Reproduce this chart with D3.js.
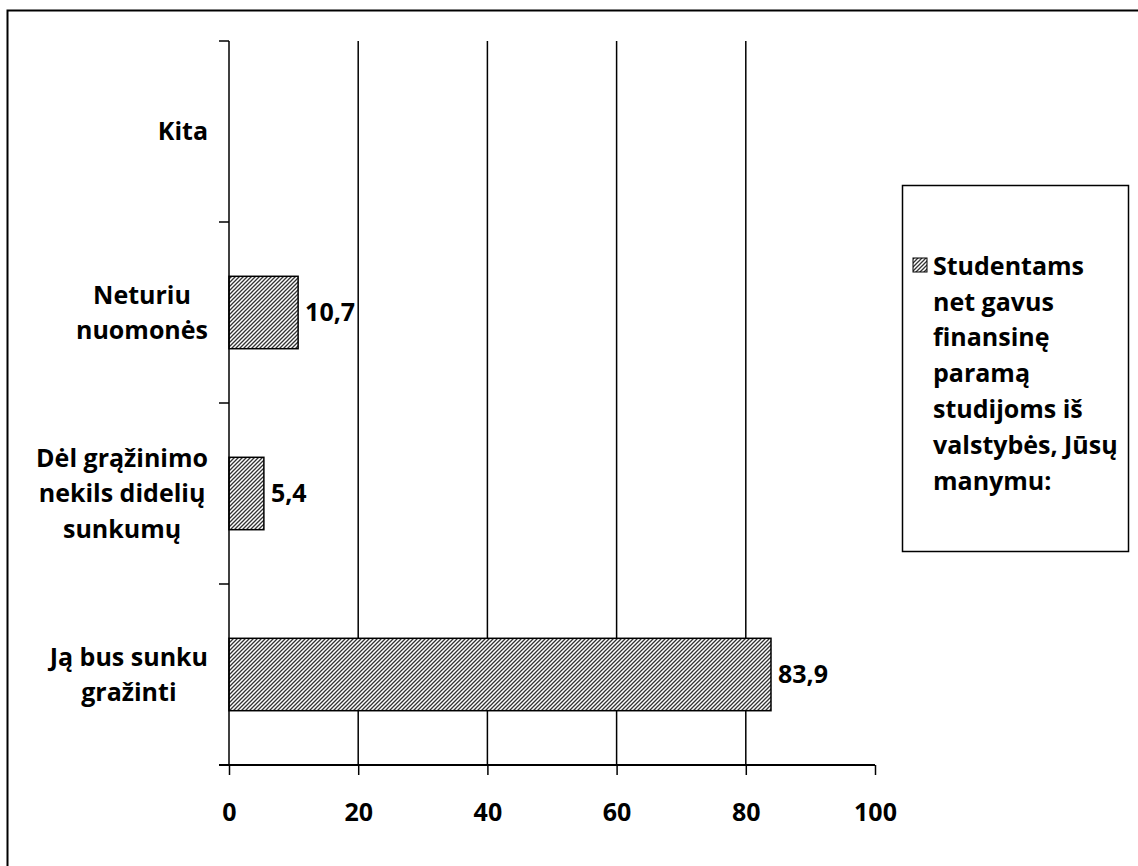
<!DOCTYPE html>
<html>
<head>
<meta charset="utf-8">
<script src="https://cdn.jsdelivr.net/npm/d3@7"></script>
<style>
  body { margin: 0; background: #fff; }
  text { font-family: "Open Sans", Lato, sans-serif; font-weight: bold; fill: #000; }
</style>
</head>
<body>
<div class="chart"></div>
<script>
const width = 1138
const height = 866

// data
const categories = [
    ["Ją bus sunku", "gražinti"],
    ["Dėl grąžinimo", "nekils didelių", "sunkumų"],
    ["Neturiu", "nuomonės"],
    ["Kita"]
]
const values = [83.9, 5.4, 10.7, 0]
const valueLabels = ["83,9", "5,4", "10,7", ""]
const xTicks = [0, 20, 40, 60, 80, 100]
const legendLines = ["Studentams", "net gavus", "finansinę", "paramą", "studijoms iš", "valstybės, Jūsų", "manymu:"]

const fontSize = "25px"

const svg = d3.select('.chart')
    .append('svg')
    .attr('width', width)
    .attr('height', height)

// hatch pattern
const defs = svg.append("defs")
const pat = defs.append("pattern")
    .attr("id", "hatch")
    .attr("patternUnits", "userSpaceOnUse")
    .attr("width", 4)
    .attr("height", 4)
pat.append("rect").attr("width", 4).attr("height", 4).attr("fill", "#fff")
pat.append("path")
    .attr("d", "M-1,1 l2,-2 M0,4 l4,-4 M3,5 l2,-2")
    .attr("stroke", "#333")
    .attr("stroke-width", 1.3)

// outer frame (only top/left visible)
svg.append("rect")
    .attr("x", 7.5).attr("y", 10.5)
    .attr("width", 1200).attr("height", 1000)
    .attr("fill", "none")
    .attr("stroke", "#000")
    .attr("stroke-width", 2)

const plot = { left: 229, right: 875, top: 41, bottom: 765 }

const x = d3.scaleLinear().domain([0, 100]).range([plot.left, plot.right])
const y = d3.scaleBand()
    .domain(d3.range(categories.length))
    .range([plot.bottom, plot.top])
    .paddingInner(0.6)
    .paddingOuter(0.3)

// gridlines
svg.append("g")
    .selectAll("line")
    .data(xTicks.filter(d => d > 0 && d < 100))
    .join("line")
    .attr("x1", d => x(d)).attr("x2", d => x(d))
    .attr("y1", plot.top).attr("y2", plot.bottom)
    .attr("stroke", "#000")
    .attr("stroke-width", 1.5)

// bars
svg.append("g")
    .selectAll("rect")
    .data(values)
    .join("rect")
    .attr("x", x(0))
    .attr("y", (d, i) => y(i))
    .attr("width", d => x(d) - x(0))
    .attr("height", y.bandwidth())
    .attr("fill", "url(#hatch)")
    .attr("stroke", d => d > 0 ? "#000" : "none")
    .attr("stroke-width", 1.5)

// value labels
svg.append("g")
    .selectAll("text")
    .data(values)
    .join("text")
    .attr("x", d => x(d) + 7)
    .attr("y", (d, i) => y(i) + y.bandwidth() / 2)
    .attr("dy", "0.35em")
    .attr("font-size", fontSize)
    .text((d, i) => valueLabels[i])

// x axis
const xAxis = svg.append("g")
    .attr("transform", `translate(0,${plot.bottom})`)
    .call(d3.axisBottom(x).tickValues(xTicks).tickSize(10).tickPadding(28).tickFormat(d3.format("d")))
xAxis.select(".domain").attr("stroke", "#000").attr("stroke-width", 2).attr("d", `M${plot.left - 10},0H${plot.right}`)
xAxis.selectAll(".tick line").attr("stroke", "#000").attr("stroke-width", 1.5)
xAxis.selectAll(".tick text").attr("font-size", fontSize).attr("font-family", "Open Sans").attr("font-weight", "bold").attr("dy", "0.71em")

// y axis
const bandEdges = d3.range(categories.length + 1).map(i => plot.bottom - i * (plot.bottom - plot.top) / categories.length)
svg.append("line")
    .attr("x1", plot.left).attr("x2", plot.left)
    .attr("y1", plot.top).attr("y2", plot.bottom)
    .attr("stroke", "#000").attr("stroke-width", 1.5)
svg.append("g")
    .selectAll("line")
    .data(bandEdges)
    .join("line")
    .attr("x1", plot.left - 10).attr("x2", plot.left)
    .attr("y1", d => d).attr("y2", d => d)
    .attr("stroke", "#000").attr("stroke-width", 1.5)

// category labels
const lineH = 35.5
categories.forEach((lines, i) => {
    const cy = y(i) + y.bandwidth() / 2
    const g = svg.append("g")
    const texts = g.selectAll("text")
        .data(lines)
        .join("text")
        .attr("font-size", fontSize)
        .attr("text-anchor", "middle")
        .attr("y", (d, j) => cy + (j - (lines.length - 1) / 2) * lineH)
        .attr("dy", "0.35em")
        .text(d => d)
    let maxW = 0
    texts.each(function() { maxW = Math.max(maxW, this.getComputedTextLength()) })
    texts.attr("x", 208 - maxW / 2)
})

// legend
const legend = svg.append("g")
legend.append("rect")
    .attr("x", 902.5).attr("y", 185.5)
    .attr("width", 226).attr("height", 366)
    .attr("fill", "#fff")
    .attr("stroke", "#000")
    .attr("stroke-width", 1.5)
legend.append("rect")
    .attr("x", 913).attr("y", 258)
    .attr("width", 14).attr("height", 14)
    .attr("fill", "url(#hatch)")
    .attr("stroke", "#000")
    .attr("stroke-width", 1)
legend.selectAll("text.leg")
    .data(legendLines)
    .join("text")
    .attr("class", "leg")
    .attr("x", 933)
    .attr("y", (d, i) => 266 + i * 35.8)
    .attr("dy", "0.35em")
    .attr("font-size", fontSize)
    .text(d => d)
</script>
</body>
</html>
